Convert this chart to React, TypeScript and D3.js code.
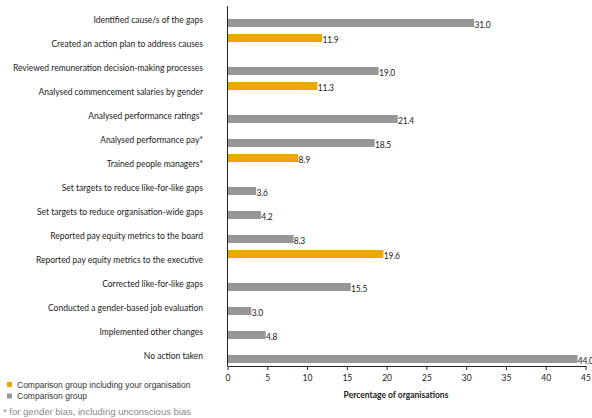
import React, { useEffect, useRef } from "react";
import * as d3 from "d3";

const categories = [
  "Identified cause/s of the gaps",
  "Created an action plan to address causes",
  "Reviewed remuneration decision-making processes",
  "Analysed commencement salaries by gender",
  "Analysed performance ratings*",
  "Analysed performance pay*",
  "Trained people managers*",
  "Set targets to reduce like-for-like gaps",
  "Set targets to reduce organisation-wide gaps",
  "Reported pay equity metrics to the board",
  "Reported pay equity metrics to the executive",
  "Corrected like-for-like gaps",
  "Conducted a gender-based job evaluation",
  "Implemented other changes",
  "No action taken",
];

// yellow series: comparison group including your organisation
const yourOrgValues: (number | null)[] = [
  null, 11.9, null, 11.3, null, null, 8.9, null, null, null, 19.6, null, null, null, null,
];

// grey series: comparison group
const comparisonValues: (number | null)[] = [
  31.0, null, 19.0, null, 21.4, 18.5, null, 3.6, 4.2, 8.3, null, 15.5, 3.0, 4.8, 44.0,
];

const xTicks = [0, 5, 10, 15, 20, 25, 30, 35, 40, 45];

const legendItems = [
  { label: "Comparison group including your organisation", key: "yours" },
  { label: "Comparison group", key: "comparison" },
];

const colors: Record<string, string> = { yours: "#E9A900", comparison: "#979797" };

const W = 592;
const H = 418;

export default function App() {
  const svgRef = useRef<SVGSVGElement>(null);

  useEffect(() => {
    const svg = d3.select(svgRef.current);
    svg.selectAll("*").remove();

    const left = 227.5;
    const right = 585.5;
    const top = 6;
    const bottom = 366;
    const labelFont = "Lato, 'Open Sans', sans-serif";
    const legendFont = "'Liberation Sans', Arial, sans-serif";

    const x = d3.scaleLinear().domain([0, 45]).range([left, right]);
    const y = d3.scaleBand<string>().domain(categories).range([top, bottom]).padding(0);
    const inner = d3
      .scaleBand<string>()
      .domain(["yours", "comparison"])
      .range([0, y.bandwidth()])
      .paddingInner(1 / 9)
      .paddingOuter(0.39);

    const rows = categories.flatMap((c, i) => [
      { cat: c, key: "yours", value: yourOrgValues[i] },
      { cat: c, key: "comparison", value: comparisonValues[i] },
    ]).filter((d) => d.value != null) as { cat: string; key: string; value: number }[];

    const g = svg.append("g");

    g.selectAll("rect.bar")
      .data(rows)
      .join("rect")
      .attr("class", "bar")
      .attr("x", x(0))
      .attr("y", (d) => (y(d.cat) ?? 0) + (inner(d.key) ?? 0) + 0.5)
      .attr("width", (d) => x(d.value) - x(0))
      .attr("height", inner.bandwidth())
      .attr("fill", (d) => colors[d.key]);

    g.selectAll("text.val")
      .data(rows)
      .join("text")
      .attr("class", "val")
      .attr("x", (d) => x(d.value) + 0.3)
      .attr("y", (d) => (y(d.cat) ?? 0) + (inner(d.key) ?? 0) + inner.bandwidth() + 1.5)
      .attr("font-family", labelFont)
      .attr("font-size", 8.5)
      .attr("letter-spacing", -0.2)
      .attr("fill", "#222")
      .text((d) => d.value.toFixed(1));

    // category labels
    g.selectAll("text.cat")
      .data(categories)
      .join("text")
      .attr("class", "cat")
      .attr("x", 203)
      .attr("y", (d) => (y(d) ?? 0) + y.bandwidth() / 2 + 4.5)
      .attr("text-anchor", "end")
      .attr("font-family", labelFont)
      .attr("font-size", 8.5)
      .attr("fill", "#222")
      .text((d) => d);

    // y axis line
    g.append("line")
      .attr("x1", left)
      .attr("x2", left)
      .attr("y1", top)
      .attr("y2", bottom)
      .attr("stroke", "#222")
      .attr("stroke-width", 1);

    // x axis
    const axis = g
      .append("g")
      .attr("transform", `translate(0,${bottom})`)
      .call(d3.axisBottom(x).tickValues(xTicks).tickSize(4).tickSizeOuter(0).tickFormat(d3.format("d")));
    axis.select(".domain").attr("stroke", "#222");
    axis.selectAll(".tick line").attr("stroke", "#222");
    axis
      .selectAll(".tick text")
      .attr("font-family", labelFont)
      .attr("font-size", 8.5)
      .attr("fill", "#222")
      .attr("dy", "0.6em")
      .attr("y", 10);

    g.append("text")
      .attr("x", 396)
      .attr("y", 398)
      .attr("text-anchor", "middle")
      .attr("font-family", labelFont)
      .attr("font-size", 8.5)
      .attr("font-weight", "bold")
      .attr("fill", "#222")
      .text("Percentage of organisations");

    // legend
    const legend = g
      .selectAll("g.leg")
      .data(legendItems)
      .join("g")
      .attr("class", "leg")
      .attr("transform", (_, i) => `translate(7,${382 + i * 11.5})`);
    legend.append("rect").attr("width", 5).attr("height", 5).attr("fill", (d) => colors[d.key]);
    legend
      .append("text")
      .attr("x", 10)
      .attr("y", 5.5)
      .attr("font-family", legendFont)
      .attr("font-size", 8.5)
      .attr("fill", "#333")
      .text((d) => d.label);

    g.append("text")
      .attr("x", 3)
      .attr("y", 415)
      .attr("font-family", legendFont)
      .attr("font-size", 9.5)
      .attr("fill", "#8a8a8a")
      .text("* for gender bias, including unconscious bias");
  }, []);

  return (
    <div style={{ position: "absolute", left: 0, top: 0 }}>
      <svg ref={svgRef} width={W} height={H} style={{ display: "block", background: "#fff" }} />
    </div>
  );
}
